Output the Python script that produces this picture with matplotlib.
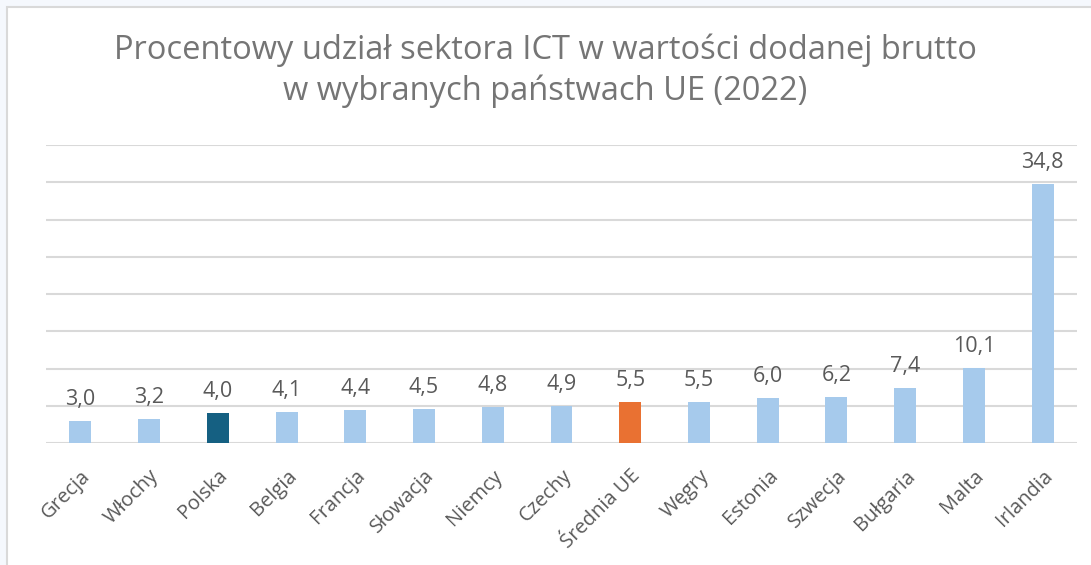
import matplotlib
matplotlib.use("Agg")
import matplotlib.pyplot as plt
from matplotlib.patches import Rectangle

categories = ["Grecja", "Włochy", "Polska", "Belgia", "Francja", "Słowacja", "Niemcy",
              "Czechy", "Średnia UE", "Węgry", "Estonia", "Szwecja", "Bułgaria", "Malta", "Irlandia"]
values = [3.0, 3.2, 4.0, 4.1, 4.4, 4.5, 4.8, 4.9, 5.5, 5.5, 6.0, 6.2, 7.4, 10.1, 34.8]
value_labels = ["3,0", "3,2", "4,0", "4,1", "4,4", "4,5", "4,8", "4,9", "5,5", "5,5",
                "6,0", "6,2", "7,4", "10,1", "34,8"]
title = "Procentowy udział sektora ICT w wartości dodanej brutto\nw wybranych państwach UE (2022)"

light = "#a6caec"
colors = [light] * len(categories)
colors[categories.index("Polska")] = "#156082"
colors[categories.index("Średnia UE")] = "#e97132"

plt.rcParams['font.family'] = ['Open Sans', 'DejaVu Sans']

W, H = 1091, 565
fig = plt.figure(figsize=(W / 100, H / 100), dpi=100)
fig.patch.set_facecolor("#f5f8fd")
# white panel with border
panel = Rectangle((7 / W, -0.1), 1.2, (H - 7) / H + 0.1, transform=fig.transFigure,
                  facecolor="white", edgecolor="#d9d9d9", linewidth=1.5, zorder=-5)
fig.patches.append(panel)

ax = fig.add_axes([46 / W, 1 - 443 / H, (1077 - 46) / W, (443 - 145) / H])
ax.set_zorder(2)
ax.set_facecolor("none")
x = range(len(categories))
ax.bar(x, values, width=0.32, color=colors, zorder=3)
ax.set_xlim(-0.5, len(categories) - 0.5)
ax.set_ylim(0, 40)
ax.set_yticks(range(0, 41, 5))
ax.yaxis.grid(True, color="#d9d9d9", linewidth=1.5, zorder=0)
ax.tick_params(axis='y', left=False, labelleft=False)
ax.tick_params(axis='x', bottom=False, pad=13)
for s in ax.spines.values():
    s.set_visible(False)
ax.set_xticks(list(x))
ax.set_xticklabels(categories, rotation=45, ha="right", rotation_mode="anchor",
                   fontsize=14.5, color="#595959")

for xi, v, lab in zip(x, values, value_labels):
    ax.annotate(lab, (xi, v), xytext=(0, 8), textcoords="offset points",
                ha="center", va="bottom", fontsize=15.5, color="#595959")

fig.text(0.5, 1 - 71 / H, title, ha="center", va="center", fontsize=23.5,
         color="#757575", linespacing=1.3, zorder=3)

fig.savefig("out.png", dpi=100, facecolor=fig.get_facecolor())
